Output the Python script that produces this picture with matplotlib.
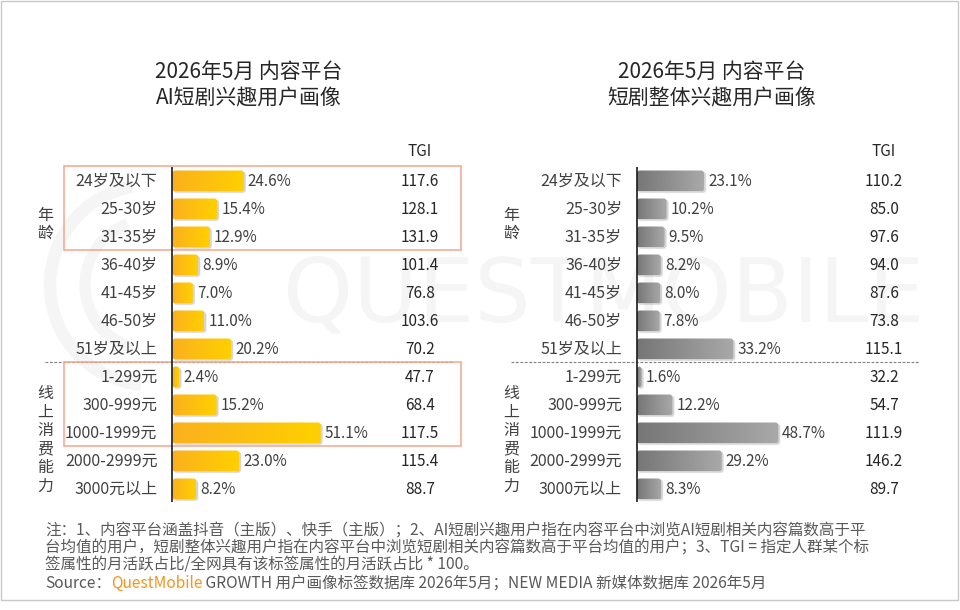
import numpy as np
import matplotlib.pyplot as plt
from matplotlib.patches import FancyBboxPatch, Rectangle, Arc
from matplotlib.colors import LinearSegmentedColormap

plt.rcParams['font.family'] = ['Noto Sans CJK SC', 'DejaVu Sans']

# ---- data ----
categories = ['24岁及以下', '25-30岁', '31-35岁', '36-40岁', '41-45岁', '46-50岁', '51岁及以上',
              '1-299元', '300-999元', '1000-1999元', '2000-2999元', '3000元以上']
ai_share = [24.6, 15.4, 12.9, 8.9, 7.0, 11.0, 20.2, 2.4, 15.2, 51.1, 23.0, 8.2]
ai_tgi = [117.6, 128.1, 131.9, 101.4, 76.8, 103.6, 70.2, 47.7, 68.4, 117.5, 115.4, 88.7]
all_share = [23.1, 10.2, 9.5, 8.2, 8.0, 7.8, 33.2, 1.6, 12.2, 48.7, 29.2, 8.3]
all_tgi = [110.2, 85.0, 97.6, 94.0, 87.6, 73.8, 115.1, 32.2, 54.7, 111.9, 146.2, 89.7]
group_names = ['年龄', '线上消费能力']
group_centers = [1.55, 9.25]
highlight_rows = [(0, 2), (7, 9)]
titles = [('2026年5月 内容平台', 'AI短剧兴趣用户画像'),
          ('2026年5月 内容平台', '短剧整体兴趣用户画像')]
notes = ['注：1、内容平台涵盖抖音（主版）、快手（主版）；2、AI短剧兴趣用户指在内容平台中浏览AI短剧相关内容篇数高于平',
         '台均值的用户，短剧整体兴趣用户指在内容平台中浏览短剧相关内容篇数高于平台均值的用户；3、TGI = 指定人群某个标',
         '签属性的月活跃占比/全网具有该标签属性的月活跃占比 * 100。']

W, H = 960, 610
PX = 2.9          # pixels per percent
ROW0, ROWH = 181, 28
Y0, Y1 = 120, 515
TXT = '#404040'

fig = plt.figure(figsize=(W / 100, H / 100), dpi=100)

# background layer: frame + watermark
bg = fig.add_axes([0, 0, 1, 1], zorder=0)
bg.set_xlim(0, W)
bg.set_ylim(H, 0)
bg.axis('off')
bg.add_patch(Rectangle((1, 1), 957, 599, fill=False, ec='#c8c8c8', lw=1))
bg.text(604, 297, 'QUESTMOBILE', fontsize=64, color='#f5f5f5', ha='center', va='center',
        family='DejaVu Sans')
bg.add_patch(Arc((150, 285), 200, 200, theta1=95, theta2=260, color='#f5f5f5', lw=9))
bg.add_patch(Arc((150, 285), 130, 130, theta1=105, theta2=250, color='#f5f5f5', lw=8))

def draw_panel(x0px, x1px, origin, shares, tgis, colors, tgi_x, boxes, dash_x):
    ax = fig.add_axes([x0px / W, 1 - Y1 / H, (x1px - x0px) / W, (Y1 - Y0) / H], zorder=2)
    ax.axis('off')
    tox = lambda px: (px - origin) / PX
    cmap = LinearSegmentedColormap.from_list('g', colors)
    grad = np.linspace(0, 1, 256).reshape(1, -1)
    h = 0.75
    for i, (cat, v, t) in enumerate(zip(categories, shares, tgis)):
        # soft shadow
        for k, a in [(1.0, 0.07), (0.6, 0.10)]:
            ax.add_patch(FancyBboxPatch((0.3, i - h / 2 + 0.06 * k), v + 0.5 * k, h,
                                        boxstyle='round,pad=0,rounding_size=1.2',
                                        mutation_aspect=0.1, fc='#000000', ec='none',
                                        alpha=a, zorder=2))
        bar = FancyBboxPatch((0, i - h / 2), v, h, boxstyle='round,pad=0,rounding_size=1.0',
                             mutation_aspect=0.1, fc='none', ec='none', zorder=3)
        ax.add_patch(bar)
        im = ax.imshow(grad, cmap=cmap, extent=[0, v, i + h / 2, i - h / 2],
                       aspect='auto', zorder=3, interpolation='bilinear')
        im.set_clip_path(bar)
        ax.text(v + tox(origin + 4), i, f'{v:.1f}%', fontsize=11, color=TXT,
                ha='left', va='center', zorder=4)
        ax.text(tox(origin - 15), i, cat, fontsize=11.5, color=TXT, ha='right', va='center')
        ax.text(tox(tgi_x), i, f'{t:.1f}', fontsize=11, color='#262626', ha='center', va='center')
    ax.text(tox(tgi_x), (151 - ROW0) / ROWH, 'TGI', fontsize=11, color='#262626',
            ha='center', va='center')
    for name, c in zip(group_names, group_centers):
        ax.text(tox(dash_x[0]), c, '\n'.join(name), fontsize=11.5, color=TXT,
                ha='center', va='center', linespacing=1.12)
    ax.plot([0, 0], [-0.5, 11.46], color='#1a1a1a', lw=1.2, zorder=5, solid_capstyle='butt')
    ax.plot([tox(dash_x[0]), tox(dash_x[1])], [6.46, 6.46], color='#7f7f7f', lw=0.8,
            ls=(0, (2.5, 1.5)), zorder=1)
    for r0, r1 in boxes:
        ax.add_patch(Rectangle((tox(64), r0 - 0.54), tox(461) - tox(64), r1 - r0 + 1.0,
                               fill=False, ec='#f4a58c', lw=1.1, zorder=1))
    ax.set_xlim(tox(x0px), tox(x1px))
    ax.set_ylim((Y1 - ROW0) / ROWH, (Y0 - ROW0) / ROWH)
    return ax


draw_panel(20, 475, 172.5, ai_share, ai_tgi, ['#fbb01e', '#ffd000'], 420,
           highlight_rows, (45, 453))
draw_panel(490, 945, 637, all_share, all_tgi, ['#767676', '#a9a9a9'], 884,
           [], (511, 919))

# titles
for (l1, l2), cx in zip(titles, [249, 712]):
    bg.text(cx, 72, l1, fontsize=15, color='#262626', ha='center', va='center')
    bg.text(cx, 98, l2, fontsize=15, color='#262626', ha='center', va='center')

# footnotes
for j, line in enumerate(notes):
    bg.text(45, 531 + 17 * j, line, fontsize=11.2, color='#595959', ha='left', va='center')
src = bg.text(45, 583, 'Source：', fontsize=11.2, color='#595959', ha='left', va='center')
qm = bg.annotate('QuestMobile', xy=(1, 0.5), xycoords=src, va='center', ha='left',
                 fontsize=11.2, color='#f7941d')
bg.annotate(' GROWTH 用户画像标签数据库 2026年5月；NEW MEDIA 新媒体数据库 2026年5月',
            xy=(1, 0.5), xycoords=qm, va='center', ha='left', fontsize=11.2, color='#595959')

fig.savefig('out.png', dpi=100)
